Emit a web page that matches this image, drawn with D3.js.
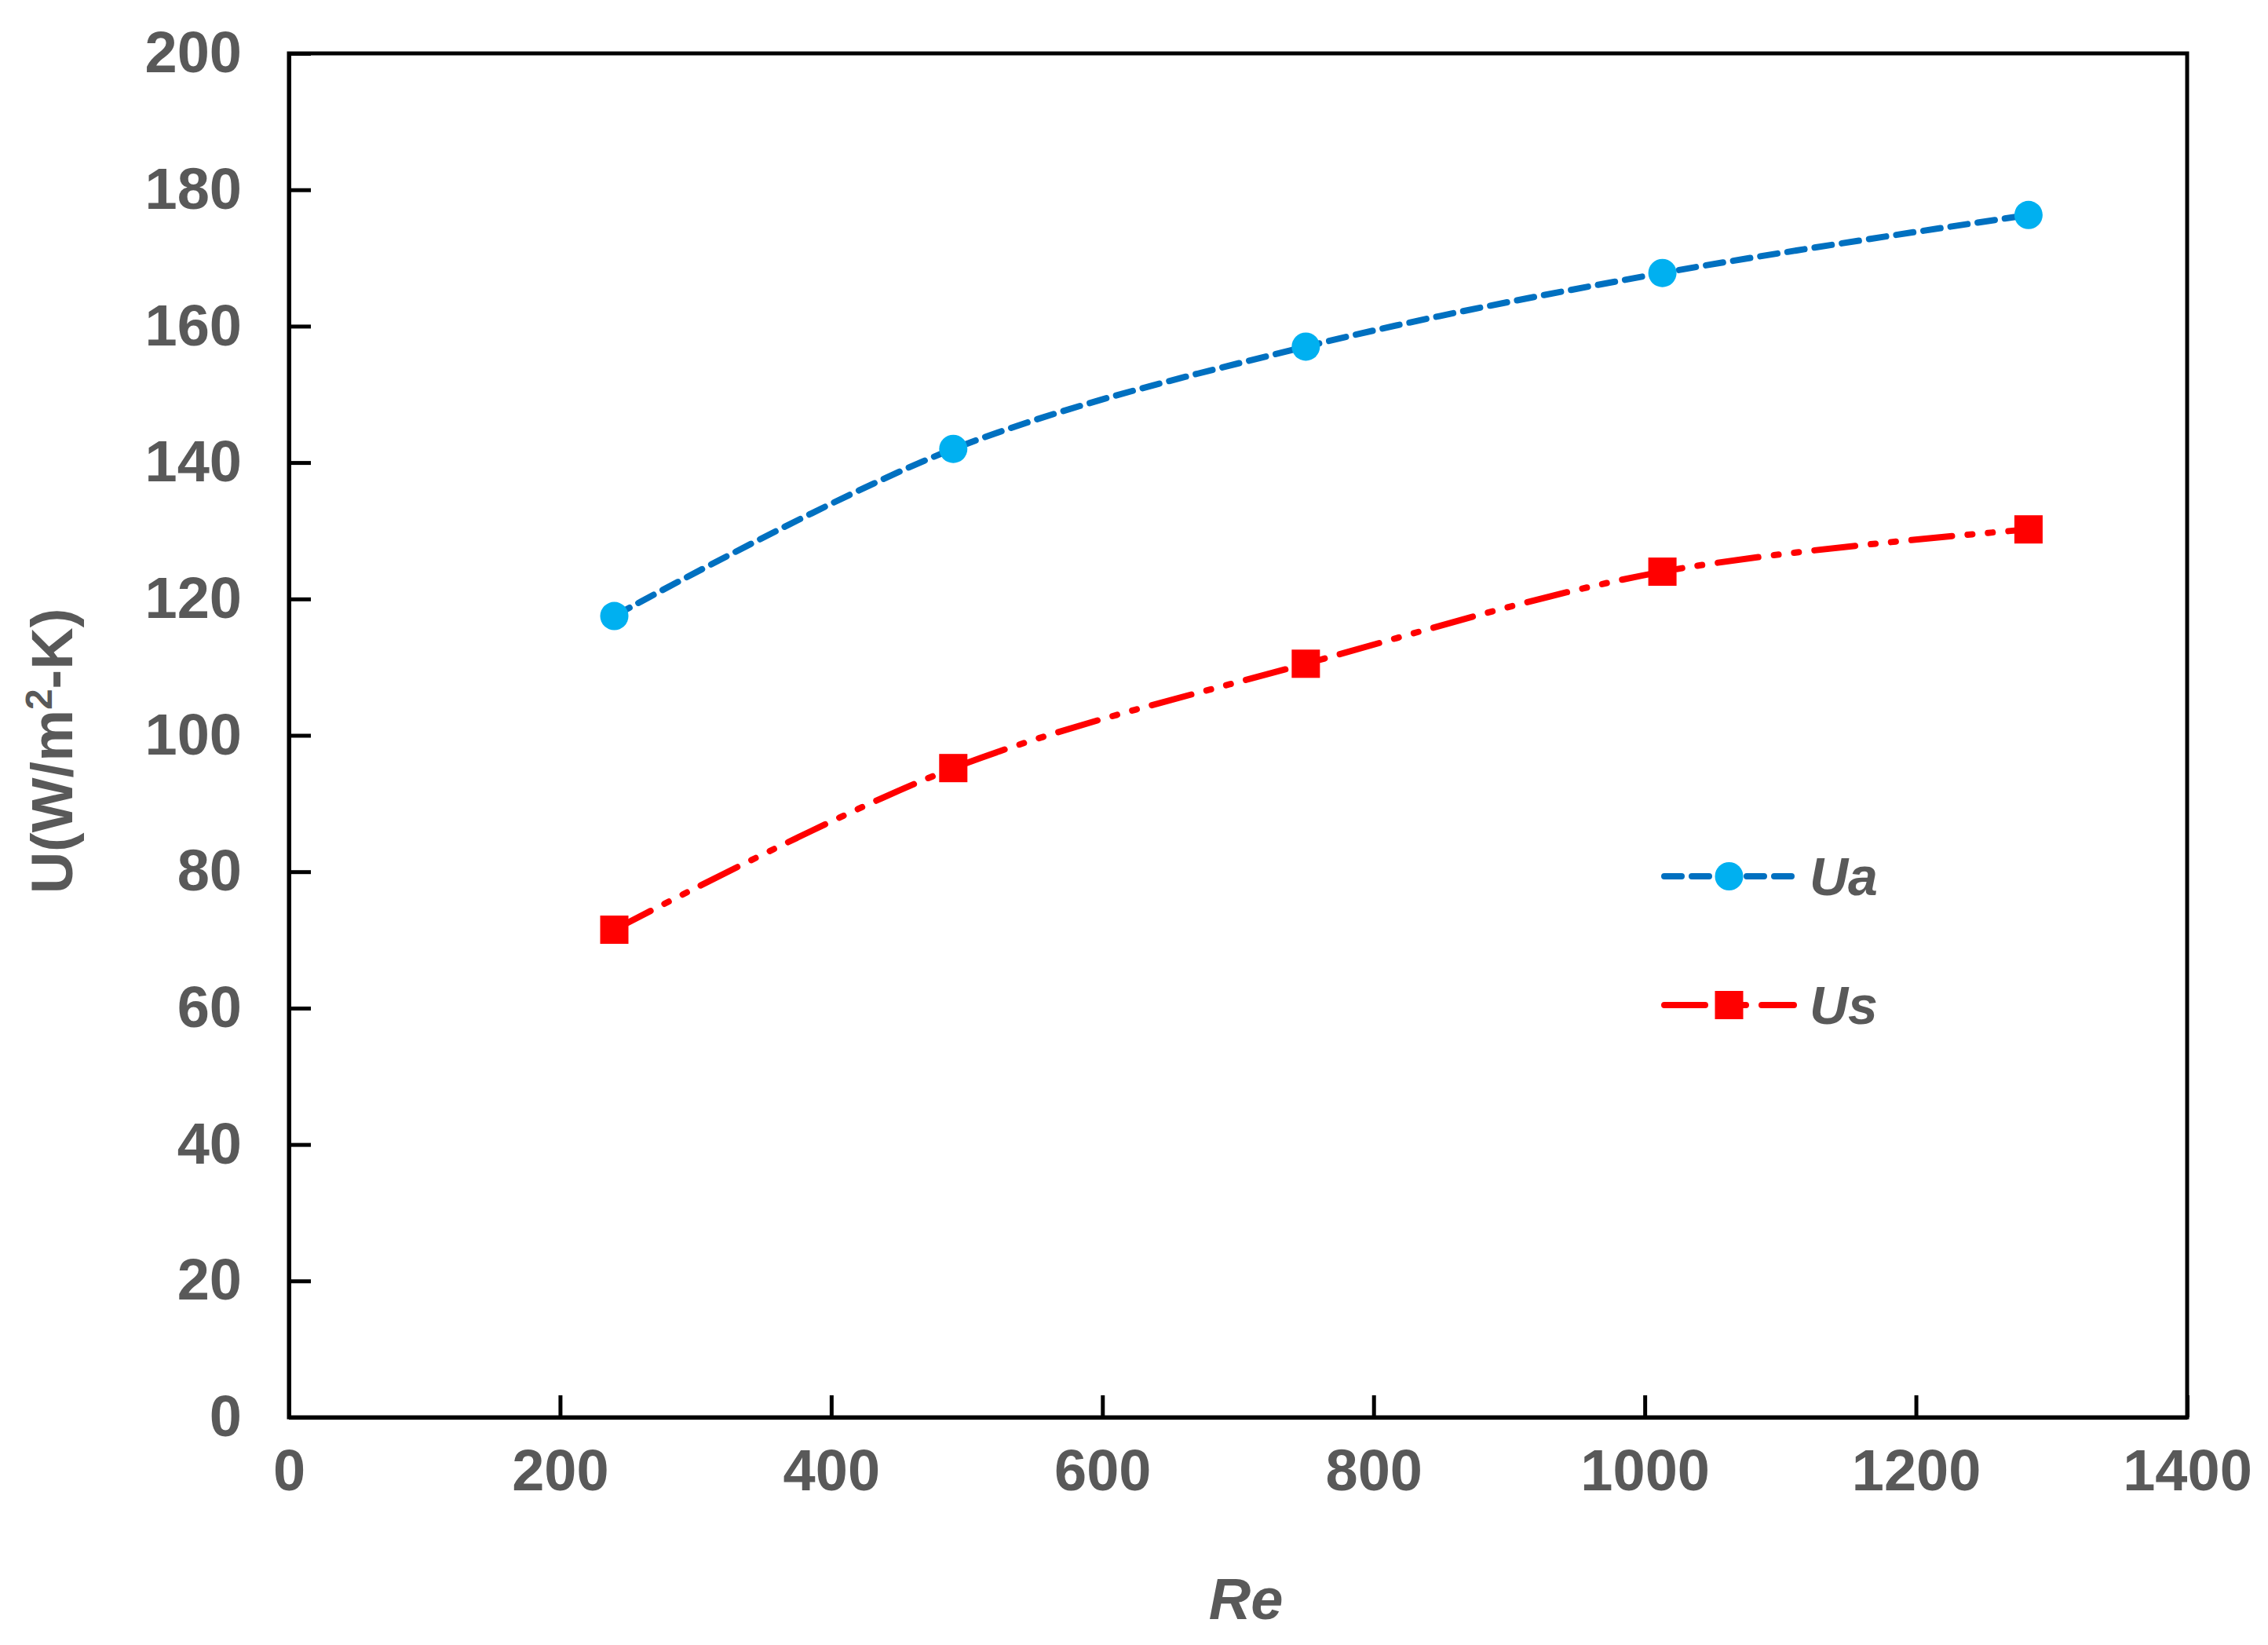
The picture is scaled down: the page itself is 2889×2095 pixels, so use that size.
<!DOCTYPE html>
<html><head><meta charset="utf-8">
<script src="https://cdn.jsdelivr.net/npm/d3@7"></script>
<style>body{margin:0;background:#fff}</style></head>
<body><svg id="c" width="2889" height="2095"></svg>
<script>
const reValues = [240, 490, 750, 1013, 1283];
const uaValues = [117.5, 142, 157, 167.8, 176.3];
const usValues = [71.5, 95.2, 110.5, 124, 130.2];
const xTicks = [0,200,400,600,800,1000,1200,1400];
const yTicks = [0,20,40,60,80,100,120,140,160,180,200];

const svg = d3.select("#c");
const L=368, R=2786, T=68, B=1805;
const x = d3.scaleLinear().domain([0,1400]).range([L,R]);
const y = d3.scaleLinear().domain([0,200]).range([B,T]);
const font = "'Liberation Sans', Arial, sans-serif";
const grey = "#595959";

svg.append("rect").attr("x",L).attr("y",T).attr("width",R-L).attr("height",B-T)
  .attr("fill","none").attr("stroke","#000").attr("stroke-width",5);

const xa = svg.append("g").attr("transform",`translate(0,${B})`)
  .call(d3.axisBottom(x).tickValues(xTicks).tickFormat(d3.format("d")).tickSizeInner(-28).tickSizeOuter(0).tickPadding(40));
const ya = svg.append("g").attr("transform",`translate(${L},0)`)
  .call(d3.axisLeft(y).tickValues(yTicks).tickFormat(d3.format("d")).tickSizeInner(-28).tickSizeOuter(0).tickPadding(60));
[xa,ya].forEach(a=>{
  a.select(".domain").attr("stroke","#000").attr("stroke-width",5);
  a.selectAll(".tick line").attr("stroke","#000").attr("stroke-width",5);
  a.selectAll("text").attr("font-family",font).attr("font-weight","bold")
   .attr("font-size",74).attr("fill",grey);
});
xa.selectAll("text").attr("dy","0.71em");

svg.append("text").attr("x",(L+R)/2+10).attr("y",2062).attr("text-anchor","middle")
  .attr("font-family",font).attr("font-weight","bold").attr("font-style","italic")
  .attr("font-size",74).attr("fill",grey).text("Re");
const yt = svg.append("text").attr("transform",`translate(92,${(T+B)/2+20}) rotate(-90)`)
  .attr("text-anchor","middle").attr("font-family",font).attr("font-weight","bold")
  .attr("font-size",74).attr("fill",grey);
yt.append("tspan").text("U(W/m");
yt.append("tspan").attr("dy",-26).attr("font-size",48).text("2");
yt.append("tspan").attr("dy",26).text("-K)");

const line = d3.line().x(d=>x(d[0])).y(d=>y(d[1])).curve(d3.curveCatmullRom);
const ua = reValues.map((r,i)=>[r,uaValues[i]]);
const us = reValues.map((r,i)=>[r,usValues[i]]);
const uaDash="22,13", usDash="52,20,6,20,6,20";

svg.append("path").attr("d",line(ua)).attr("fill","none").attr("stroke","#0070C0")
  .attr("stroke-width",8).attr("stroke-dasharray",uaDash).attr("stroke-linecap","round");
svg.append("path").attr("d",line(us)).attr("fill","none").attr("stroke","#FF0000")
  .attr("stroke-width",8).attr("stroke-dasharray",usDash).attr("stroke-linecap","round");
svg.selectAll(".ua").data(ua).enter().append("circle")
  .attr("cx",d=>x(d[0])).attr("cy",d=>y(d[1])).attr("r",18).attr("fill","#00B0F0");
svg.selectAll(".us").data(us).enter().append("rect")
  .attr("x",d=>x(d[0])-18).attr("y",d=>y(d[1])-18).attr("width",36).attr("height",36).attr("fill","#FF0000");

// legend
const lx0=2120, lx1=2285, ly=[1116,1280];
svg.append("line").attr("x1",lx0).attr("x2",lx1).attr("y1",ly[0]).attr("y2",ly[0])
  .attr("stroke","#0070C0").attr("stroke-width",8).attr("stroke-dasharray",uaDash).attr("stroke-linecap","round");
svg.append("circle").attr("cx",(lx0+lx1)/2).attr("cy",ly[0]).attr("r",18).attr("fill","#00B0F0");
svg.append("line").attr("x1",lx0).attr("x2",lx1).attr("y1",ly[1]).attr("y2",ly[1])
  .attr("stroke","#FF0000").attr("stroke-width",8).attr("stroke-dasharray",usDash).attr("stroke-linecap","round");
svg.append("rect").attr("x",(lx0+lx1)/2-18).attr("y",ly[1]-18).attr("width",36).attr("height",36).attr("fill","#FF0000");
[["Ua",ly[0]],["Us",ly[1]]].forEach(([t,yy])=>svg.append("text").attr("x",2305).attr("y",yy)
  .attr("dy","0.36em").attr("font-family",font).attr("font-weight","bold").attr("font-style","italic")
  .attr("font-size",68).attr("fill",grey).text(t));
</script></body></html>
